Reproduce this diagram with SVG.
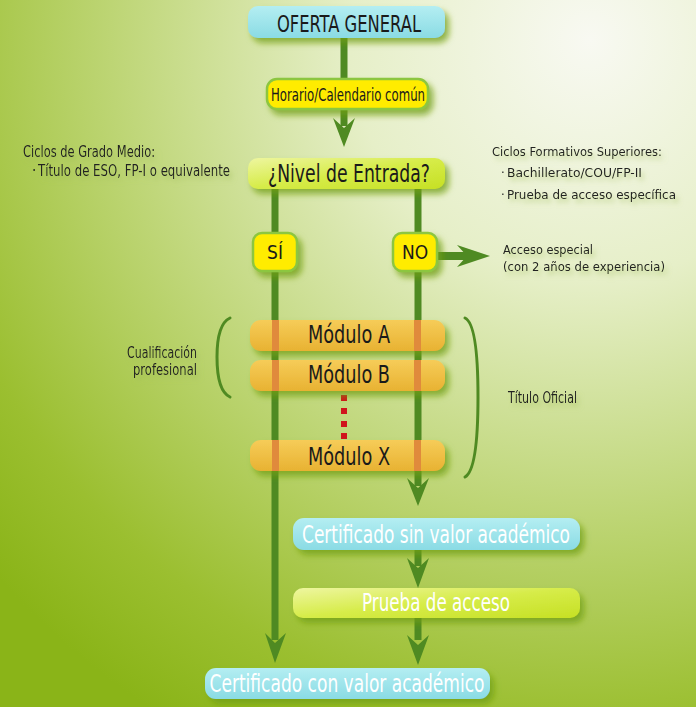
<svg xmlns="http://www.w3.org/2000/svg" width="696" height="707" viewBox="0 0 696 707">
<defs>
<radialGradient id="bg" cx="590" cy="40" r="800" gradientUnits="userSpaceOnUse">
<stop offset="0" stop-color="#f8f9f2"/>
<stop offset="0.3" stop-color="#e6efc8"/>
<stop offset="0.6" stop-color="#bdd574"/>
<stop offset="0.85" stop-color="#9bbf30"/>
<stop offset="1" stop-color="#8ab418"/>
</radialGradient>
<linearGradient id="cyan" x1="0" y1="0" x2="0" y2="1">
<stop offset="0" stop-color="#b4eef2"/>
<stop offset="1" stop-color="#8adbe4"/>
</linearGradient>
<linearGradient id="lime" x1="0" y1="0" x2="1" y2="1">
<stop offset="0" stop-color="#eef6a0"/>
<stop offset="0.5" stop-color="#d6ec48"/>
<stop offset="1" stop-color="#c6e024"/>
</linearGradient>
<linearGradient id="orange" x1="0" y1="0" x2="0" y2="1">
<stop offset="0" stop-color="#f6cc58"/>
<stop offset="1" stop-color="#e8b232"/>
</linearGradient>
<filter id="sh" x="-20%" y="-40%" width="150%" height="200%">
<feDropShadow dx="4" dy="5" stdDeviation="3" flood-color="#6f9e12" flood-opacity="0.75"/>
</filter>
<filter id="tsh" x="-10%" y="-40%" width="130%" height="200%">
<feDropShadow dx="3" dy="4" stdDeviation="2.5" flood-color="#9dbb55" flood-opacity="0.6"/>
</filter>
</defs>
<style>
.t{font-family:"DejaVu Sans Condensed","Liberation Sans Narrow","Open Sans",sans-serif;}
.dk{fill:#1a1a1a;}
.wh{fill:#ffffff;}
.note{font-size:15px;fill:#222;}
.sm{font-size:13px;}
.ln{stroke:#4f8a22;stroke-width:7;fill:none;}
.br{stroke:#4f8a22;stroke-width:3;fill:none;stroke-linecap:round;}
.yb{fill:#ffec00;stroke:#8cc63f;stroke-width:2.5;}
.ah{fill:#4f8a22;}
.strip{fill:#e08a3c;}
.red{fill:#d0141c;}
</style>
<rect width="696" height="707" fill="url(#bg)"/>

<g id="connectors">
<line class="ln" x1="344" y1="38" x2="344" y2="78"/>
<line class="ln" x1="344" y1="110" x2="344" y2="126"/>
<polygon class="ah" points="333,118 344,128 355,118 344,147"/>
<line class="ln" x1="275" y1="189" x2="275" y2="640"/>
<polygon class="ah" points="265,633 275,643 286,633 275,663"/>
<line class="ln" x1="418" y1="189" x2="418" y2="486"/>
<polygon class="ah" points="407,478 418,488 429,478 418,506"/>
<line class="ln" x1="418" y1="550" x2="418" y2="566"/>
<polygon class="ah" points="407,558 418,568 429,558 418,588"/>
<line class="ln" x1="418" y1="618" x2="418" y2="640"/>
<polygon class="ah" points="407,635 418,645 429,635 418,665"/>
<line class="ln" x1="438" y1="256" x2="470" y2="256" style="stroke-width:8"/>
<polygon class="ah" points="457,245 467,256 457,267 490,256"/>
<g class="red">
<rect x="341" y="395" width="6" height="6"/>
<rect x="341" y="408" width="6" height="6"/>
<rect x="341" y="421" width="6" height="6"/>
<rect x="341" y="433" width="6" height="6"/>
</g>
<path class="br" d="M230,318 Q217,324 217,357 Q217,391 230,397"/>
<path class="br" d="M465,318 Q478,324 478,397 Q478,470 465,477"/>
</g>

<g id="oferta">
<rect x="248" y="6" width="197" height="32" rx="10" fill="url(#cyan)" filter="url(#sh)"/>
<text class="t dk" x="349" y="32" font-size="23" text-anchor="middle" textLength="144" lengthAdjust="spacingAndGlyphs">OFERTA GENERAL</text>
</g>
<g id="horario">
<rect class="yb" x="267" y="79" width="161" height="30" rx="10" filter="url(#sh)"/>
<text class="t dk" x="348" y="101" font-size="18" text-anchor="middle" textLength="154" lengthAdjust="spacingAndGlyphs">Horario/Calendario común</text>
</g>
<g id="nivel">
<rect x="248" y="158" width="197" height="31" rx="10" fill="url(#lime)" filter="url(#sh)"/>
<text class="t dk" x="349" y="182" font-size="24" text-anchor="middle" textLength="162" lengthAdjust="spacingAndGlyphs">¿Nivel de Entrada?</text>
</g>
<g id="si">
<rect class="yb" x="253" y="233" width="44" height="38" rx="9" filter="url(#sh)"/>
<text class="t dk" x="275" y="259" font-size="19" text-anchor="middle">SÍ</text>
</g>
<g id="no">
<rect class="yb" x="393" y="233" width="44" height="38" rx="9" filter="url(#sh)"/>
<text class="t dk" x="415" y="259" font-size="19" text-anchor="middle">NO</text>
</g>
<g id="acceso-especial" filter="url(#tsh)">
<text class="t note sm" x="503" y="254" textLength="90" lengthAdjust="spacingAndGlyphs">Acceso especial</text>
<text class="t note sm" x="503" y="271" textLength="162" lengthAdjust="spacingAndGlyphs">(con 2 años de experiencia)</text>
</g>
<g id="grado-medio" filter="url(#tsh)">
<text class="t note" x="23" y="157" textLength="132" lengthAdjust="spacingAndGlyphs">Ciclos de Grado Medio:</text>
<text class="t note" x="32" y="176">·</text>
<text class="t note" x="38" y="176" textLength="192" lengthAdjust="spacingAndGlyphs">Título de ESO, FP-I o equivalente</text>
</g>
<g id="superiores" filter="url(#tsh)">
<text class="t note sm" x="492" y="156" textLength="170" lengthAdjust="spacingAndGlyphs">Ciclos Formativos Superiores:</text>
<text class="t note sm" x="501" y="177">·</text>
<text class="t note sm" x="507" y="177" textLength="135" lengthAdjust="spacingAndGlyphs">Bachillerato/COU/FP-II</text>
<text class="t note sm" x="501" y="199">·</text>
<text class="t note sm" x="507" y="199" textLength="169" lengthAdjust="spacingAndGlyphs">Prueba de acceso específica</text>
</g>
<g id="cualificacion" filter="url(#tsh)">
<text class="t note" x="197" y="358" text-anchor="end" textLength="70" lengthAdjust="spacingAndGlyphs">Cualificación</text>
<text class="t note" x="197" y="375" text-anchor="end" textLength="64" lengthAdjust="spacingAndGlyphs">profesional</text>
</g>
<g id="titulo-oficial" filter="url(#tsh)">
<text class="t note" x="508" y="403" textLength="69" lengthAdjust="spacingAndGlyphs">Título Oficial</text>
</g>
<g id="modulo-a">
<rect x="250" y="320" width="195" height="31" rx="11" fill="url(#orange)" filter="url(#sh)"/>
<rect class="strip" x="272" y="320" width="7" height="31"/>
<rect class="strip" x="414" y="320" width="7" height="31"/>
<text class="t dk" x="349" y="343" font-size="24" text-anchor="middle" textLength="82" lengthAdjust="spacingAndGlyphs">Módulo A</text>
</g>
<g id="modulo-b">
<rect x="250" y="360" width="195" height="31" rx="11" fill="url(#orange)" filter="url(#sh)"/>
<rect class="strip" x="272" y="360" width="7" height="31"/>
<rect class="strip" x="414" y="360" width="7" height="31"/>
<text class="t dk" x="349" y="383" font-size="24" text-anchor="middle" textLength="82" lengthAdjust="spacingAndGlyphs">Módulo B</text>
</g>
<g id="modulo-x">
<rect x="250" y="440" width="195" height="31" rx="11" fill="url(#orange)" filter="url(#sh)"/>
<rect class="strip" x="272" y="440" width="7" height="31"/>
<rect class="strip" x="414" y="440" width="7" height="31"/>
<text class="t dk" x="349" y="465" font-size="24" text-anchor="middle" textLength="82" lengthAdjust="spacingAndGlyphs">Módulo X</text>
</g>
<g id="cert-sin">
<rect x="293" y="518" width="287" height="32" rx="11" fill="url(#cyan)" filter="url(#sh)"/>
<text class="t wh" x="436" y="543" font-size="25" text-anchor="middle" textLength="268" lengthAdjust="spacingAndGlyphs">Certificado sin valor académico</text>
</g>
<g id="prueba">
<rect x="293" y="588" width="287" height="30" rx="10" fill="url(#lime)" filter="url(#sh)"/>
<text class="t wh" x="436" y="611" font-size="24" text-anchor="middle" textLength="148" lengthAdjust="spacingAndGlyphs">Prueba de acceso</text>
</g>
<g id="cert-con">
<rect x="205" y="668" width="285" height="31" rx="11" fill="url(#cyan)" filter="url(#sh)"/>
<text class="t wh" x="347" y="692" font-size="25" text-anchor="middle" textLength="275" lengthAdjust="spacingAndGlyphs">Certificado con valor académico</text>
</g>
</svg>
